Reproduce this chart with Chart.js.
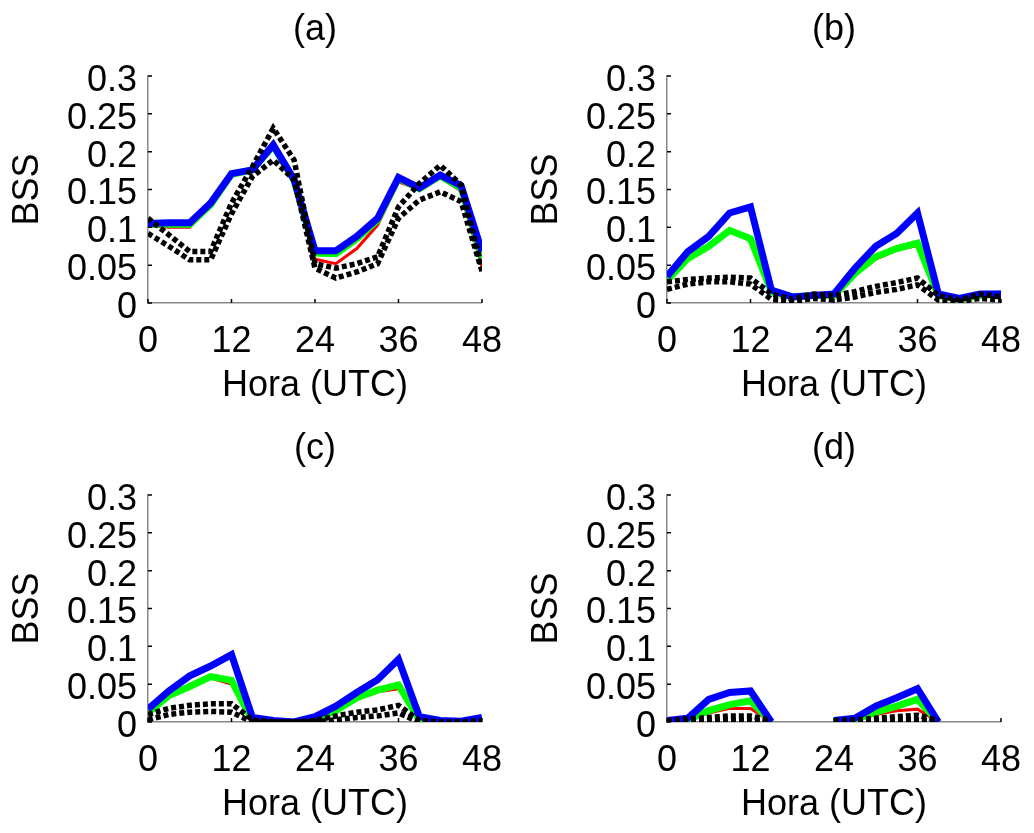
<!DOCTYPE html>
<html>
<head>
<meta charset="utf-8">
<script src="https://cdn.jsdelivr.net/npm/chart.js@4"></script>
<style>
  html, body { margin: 0; padding: 0; background: #fff; overflow: hidden; }
  .panel { position: absolute; }
</style>
</head>
<body>
<canvas id="pa" class="panel" width="519" height="419" style="left:0;top:0"></canvas>
<canvas id="pb" class="panel" width="519" height="419" style="left:519px;top:0"></canvas>
<canvas id="pc" class="panel" width="519" height="419" style="left:0;top:419px"></canvas>
<canvas id="pd" class="panel" width="519" height="419" style="left:519px;top:419px"></canvas>
<script>
// hours 0..48, every 3 h
const hours = [0, 3, 6, 9, 12, 15, 18, 21, 24, 27, 30, 33, 36, 39, 42, 45, 48];
const xTicks = [0, 12, 24, 36, 48];
const yTicks = [0, 0.05, 0.1, 0.15, 0.2, 0.25, 0.3];

// panel (a)
const redA   = [0.102, 0.100, 0.100, 0.128, 0.170, 0.175, 0.207, 0.160, 0.058, 0.052, 0.072, 0.103, 0.160, 0.150, 0.166, 0.148, 0.048];
const greenA = [0.104, 0.104, 0.104, 0.130, 0.170, 0.176, 0.208, 0.162, 0.066, 0.065, 0.085, 0.110, 0.165, 0.151, 0.168, 0.152, 0.060];
const blueA  = [0.105, 0.106, 0.106, 0.132, 0.171, 0.176, 0.209, 0.163, 0.069, 0.069, 0.088, 0.112, 0.166, 0.152, 0.169, 0.155, 0.068];
const hiA    = [0.112, 0.090, 0.068, 0.068, 0.132, 0.180, 0.231, 0.189, 0.052, 0.046, 0.052, 0.061, 0.127, 0.158, 0.182, 0.156, 0.046];
const loA    = [0.092, 0.075, 0.057, 0.057, 0.118, 0.167, 0.189, 0.163, 0.046, 0.033, 0.041, 0.052, 0.112, 0.136, 0.147, 0.134, 0.042];

// panel (b)
const redB   = [0.028, 0.058, 0.074, 0.097, 0.082, 0.014, 0.008, 0.010, 0.010, 0.038, 0.058, 0.070, 0.076, 0.010, 0.005, 0.010, 0.012];
const greenB = [0.030, 0.059, 0.075, 0.096, 0.085, 0.015, 0.008, 0.010, 0.010, 0.039, 0.061, 0.072, 0.079, 0.010, 0.005, 0.010, 0.012];
const blueB  = [0.035, 0.068, 0.088, 0.119, 0.127, 0.017, 0.008, 0.010, 0.012, 0.046, 0.075, 0.092, 0.119, 0.012, 0.006, 0.012, 0.012];
const hiB    = [0.028, 0.031, 0.033, 0.034, 0.033, 0.012, 0.005, 0.012, 0.010, 0.015, 0.022, 0.027, 0.033, 0.010, 0.004, 0.012, 0.008];
const loB    = [0.018, 0.025, 0.028, 0.028, 0.025, 0.005, 0.002, 0.006, 0.004, 0.008, 0.014, 0.018, 0.024, 0.004, 0.002, 0.006, 0.004];

// panel (c)
const redC   = [0.011, 0.034, 0.046, 0.058, 0.050, 0.002, 0.000, 0.000, 0.003, 0.014, 0.030, 0.040, 0.044, 0.003, 0.000, 0.000, 0.002];
const greenC = [0.012, 0.035, 0.047, 0.060, 0.055, 0.002, 0.000, 0.000, 0.003, 0.015, 0.032, 0.042, 0.049, 0.003, 0.000, 0.000, 0.002];
const blueC  = [0.017, 0.041, 0.061, 0.074, 0.089, 0.006, 0.002, 0.000, 0.007, 0.021, 0.039, 0.056, 0.083, 0.007, 0.002, 0.001, 0.006];
const hiC    = [0.010, 0.018, 0.022, 0.024, 0.024, 0.003, 0.000, 0.000, 0.002, 0.008, 0.013, 0.016, 0.022, 0.002, 0.000, 0.000, 0.002];
const loC    = [0.003, 0.010, 0.013, 0.014, 0.013, 0.000, 0.000, 0.000, 0.000, 0.003, 0.006, 0.008, 0.012, 0.000, 0.000, 0.000, 0.000];

// panel (d)  (null = no value)
const redD   = [0.000, 0.003, 0.012, 0.018, 0.018, 0.000, null, null, 0.000, 0.003, 0.010, 0.015, 0.017, 0.000, null, null, null];
const greenD = [0.000, 0.003, 0.015, 0.023, 0.028, 0.000, null, null, 0.000, 0.003, 0.013, 0.021, 0.030, 0.000, null, null, null];
const blueD  = [0.002, 0.005, 0.030, 0.039, 0.041, 0.000, null, null, 0.002, 0.005, 0.021, 0.032, 0.044, 0.000, null, null, null];
const hiD    = [0.002, 0.004, 0.006, 0.008, 0.008, 0.002, null, null, 0.002, 0.003, 0.005, 0.007, 0.009, 0.002, null, null, null];
const loD    = [0.000, 0.001, 0.002, 0.003, 0.003, 0.000, null, null, 0.000, 0.001, 0.002, 0.003, 0.003, 0.000, null, null, null];

const FONT = "'Liberation Sans', Arial, Helvetica, sans-serif";

function pts(values) {
  return values.map((v, i) => ({ x: hours[i], y: v }));
}

// short inward tick marks, MATLAB style
const innerTicks = {
  id: "innerTicks",
  afterDraw(chart) {
    const { ctx, chartArea, scales } = chart;
    ctx.save();
    ctx.strokeStyle = "#000";
    ctx.lineWidth = 1.5;
    ctx.beginPath();
    yTicks.forEach((v) => {
      const y = scales.y.getPixelForValue(v);
      ctx.moveTo(chartArea.left, y);
      ctx.lineTo(chartArea.left + 4, y);
    });
    xTicks.forEach((v) => {
      const x = scales.x.getPixelForValue(v);
      ctx.moveTo(x, chartArea.bottom);
      ctx.lineTo(x, chartArea.bottom - 4);
    });
    ctx.stroke();
    ctx.restore();
  },
};

function makePanel(id, title, red, green, blue, hi, lo) {
  const line = (data, color, width, dash) => ({
    data: pts(data),
    borderColor: color,
    backgroundColor: color,
    borderWidth: width,
    borderDash: dash || [],
    borderCapStyle: "butt",
    pointRadius: 0,
    tension: 0,
    spanGaps: false,
    fill: false,
  });

  new Chart(document.getElementById(id), {
    type: "line",
    data: {
      datasets: [
        line(hi, "#000", 5.5, [5, 3]),
        line(lo, "#000", 5.5, [5, 3]),
        line(blue, "#0000ff", 7),
        line(green, "#00ff00", 7),
        line(red, "#ff0000", 3),
      ],
    },
    plugins: [innerTicks],
    options: {
      responsive: false,
      animation: false,
      layout: { padding: { left: 0, right: 30, top: 0, bottom: 0 } },
      plugins: {
        legend: { display: false },
        tooltip: { enabled: false },
        title: {
          display: true,
          fullSize: false,
          text: title,
          color: "#000",
          font: { family: FONT, size: 36, weight: "normal" },
          padding: { top: 8, bottom: 24.8 },
        },
      },
      scales: {
        x: {
          type: "linear",
          min: 0,
          max: 48,
          afterBuildTicks: (s) => { s.ticks = xTicks.map((v) => ({ value: v })); },
          afterFit: (s) => { s.height = 116; },
          grid: { display: false, drawTicks: false },
          border: { display: true, color: "#888", width: 1.5 },
          ticks: {
            autoSkip: false,
            maxRotation: 0,
            padding: 17,
            color: "#000",
            font: { family: FONT, size: 36 },
          },
          title: {
            display: true,
            text: "Hora (UTC)",
            color: "#000",
            font: { family: FONT, size: 36 },
            padding: { top: 0, bottom: 11 },
          },
        },
        y: {
          min: 0,
          max: 0.3,
          afterBuildTicks: (s) => { s.ticks = yTicks.map((v) => ({ value: v })); },
          afterFit: (s) => { s.width = 148; },
          grid: { display: false, drawTicks: false },
          border: { display: true, color: "#888", width: 1.5 },
          ticks: {
            autoSkip: false,
            padding: 11,
            labelOffset: 5,
            color: "#000",
            font: { family: FONT, size: 36 },
            callback: (v) => String(+v.toFixed(2)),
          },
          title: {
            display: true,
            text: "BSS",
            color: "#000",
            font: { family: FONT, size: 36 },
            padding: { top: 6, bottom: 0 },
          },
        },
      },
    },
  });
}

makePanel("pa", "(a)", redA, greenA, blueA, hiA, loA);
makePanel("pb", "(b)", redB, greenB, blueB, hiB, loB);
makePanel("pc", "(c)", redC, greenC, blueC, hiC, loC);
makePanel("pd", "(d)", redD, greenD, blueD, hiD, loD);
</script>
</body>
</html>
